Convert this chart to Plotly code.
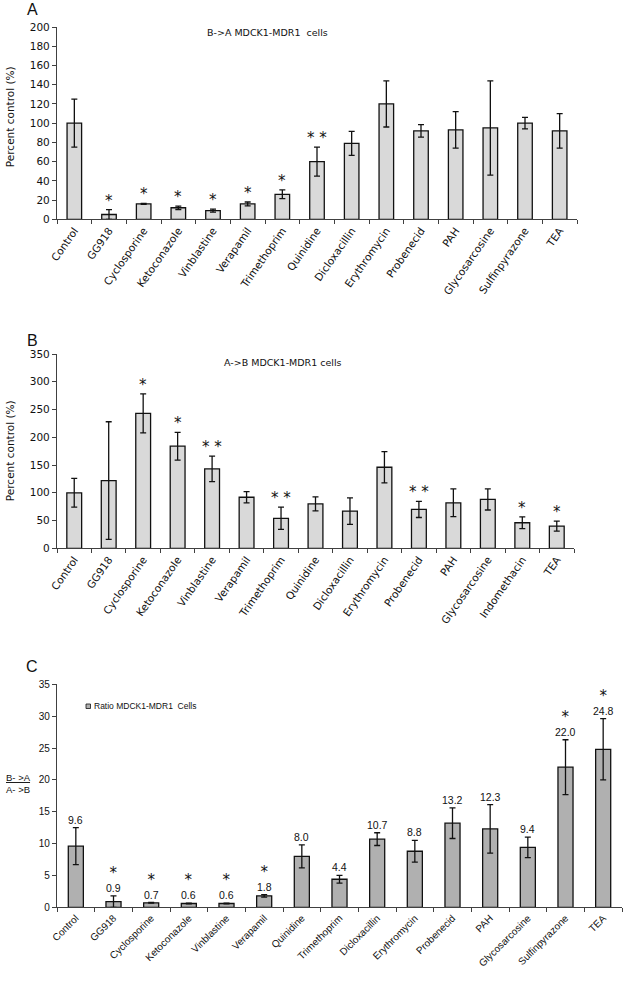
import plotly.graph_objects as go

# ---------------- data ----------------
cats_A = ["Control", "GG918", "Cyclosporine", "Ketoconazole", "Vinblastine", "Verapamil",
          "Trimethoprim", "Quinidine", "Dicloxacillin", "Erythromycin", "Probenecid", "PAH",
          "Glycosarcosine", "Sulfinpyrazone", "TEA"]
vals_A = [100, 5, 16, 12, 9, 16, 26, 60, 79, 120, 92, 93, 95, 100, 92]
err_A = [25, 5, 0.5, 1.8, 1.5, 2, 4.5, 15, 12.5, 24, 6.5, 19, 49, 6, 18]
sig_A = ["", "*", "*", "*", "*", "*", "*", "* *", "", "", "", "", "", "", ""]

cats_B = ["Control", "GG918", "Cyclosporine", "Ketoconazole", "Vinblastine", "Verapamil",
          "Trimethoprim", "Quinidine", "Dicloxacillin", "Erythromycin", "Probenecid", "PAH",
          "Glycosarcosine", "Indomethacin", "TEA"]
vals_B = [100, 122, 243, 184, 143, 92, 54, 80, 67, 146, 70, 82, 88, 46, 40]
err_B = [26, 106, 35, 25, 23, 10, 20, 12.5, 24, 28, 14.5, 25, 19, 10.5, 9]
sig_B = ["", "", "*", "*", "* *", "", "* *", "", "", "", "* *", "", "", "*", "*"]

cats_C = ["Control", "GG918", "Cyclosporine", "Ketoconazole", "Vinblastine", "Verapamil",
          "Quinidine", "Trimethoprim", "Dicloxacillin", "Erythromycin", "Probenecid", "PAH",
          "Glycosarcosine", "Sulfinpyrazone", "TEA"]
vals_C = [9.6, 0.9, 0.7, 0.6, 0.6, 1.8, 8.0, 4.4, 10.7, 8.8, 13.2, 12.3, 9.4, 22.0, 24.8]
err_C = [2.9, 0.9, 0.05, 0.05, 0.05, 0.2, 1.8, 0.6, 1.0, 1.7, 2.4, 3.8, 1.6, 4.3, 4.8]
sig_C = ["", "*", "*", "*", "*", "*", "", "", "", "", "", "", "", "*", "*"]

titles = ["B->A MDCK1-MDR1  cells", "A->B MDCK1-MDR1 cells", "Ratio MDCK1-MDR1  Cells"]
y_label = "Percent control (%)"

# ---------------- layout helpers ----------------
W, H = 625, 981
def px(x):
    return x / W
def py(y):
    return 1 - y / H

AX = "#404040"
VER = "DejaVu Sans, Verdana, sans-serif"
ARI = "Liberation Sans, Arial, sans-serif"

fig = go.Figure()

def add_bars(cats, vals, errs, xa, ya, color, width):
    fig.add_trace(go.Bar(
        x=cats, y=vals, xaxis=xa, yaxis=ya, width=width,
        marker=dict(color=color, line=dict(color="#111111", width=1.3)),
        error_y=dict(type="data", array=errs, visible=True, color="#111111",
                     thickness=1.3, width=3),
        showlegend=False, hoverinfo="x+y",
    ))

add_bars(cats_A, vals_A, err_A, "x", "y", "#d9d9d9", 0.42)
add_bars(cats_B, vals_B, err_B, "x2", "y2", "#d9d9d9", 0.43)
add_bars(cats_C, vals_C, err_C, "x3", "y3", "#b0b0b0", 0.40)

def xaxis_cfg(x0, x1, angle, font):
    return dict(domain=[px(x0), px(x1)], type="category", range=[-0.5, 14.5],
                showline=True, linecolor=AX, linewidth=1.3, ticks="outside",
                tickson="boundaries", ticklen=4, tickcolor=AX, tickwidth=1.3,
                tickangle=angle, tickfont=font, showgrid=False, zeroline=False,
                fixedrange=True, automargin=False)

def yaxis_cfg(ytop, ybot, rng, dtick, font, anchor):
    return dict(domain=[py(ybot), py(ytop)], range=rng, dtick=dtick, showline=True,
                linecolor=AX, linewidth=1.3, ticks="outside", ticklen=4, tickcolor=AX,
                tickwidth=1.3, tickfont=font, showgrid=False, zeroline=False,
                anchor=anchor, fixedrange=True, automargin=False)

fontAB = dict(family=VER, size=10.5, color="#111111")
fontC = dict(family=ARI, size=10, color="#111111")

fig.update_layout(
    width=W, height=H, margin=dict(l=0, r=0, t=0, b=0, autoexpand=False),
    paper_bgcolor="white", plot_bgcolor="white",
    bargap=0.5,
    xaxis=xaxis_cfg(57, 577, -55, fontAB) | dict(anchor="y"),
    yaxis=yaxis_cfg(27, 219.3, [0, 200], 20, fontAB, "x"),
    xaxis2=xaxis_cfg(57, 574, -55, fontAB) | dict(anchor="y2"),
    yaxis2=yaxis_cfg(354, 548.3, [0, 350], 50, fontAB, "x2"),
    xaxis3=xaxis_cfg(57, 622, -45, fontC) | dict(anchor="y3"),
    yaxis3=yaxis_cfg(684.3, 907.3, [0, 35], 5, fontC, "x3"),
)

ann = []
# significance marks (panels A, B)
for cats, vals, errs, sigs, xr, yr in [
    (cats_A, vals_A, err_A, sig_A, "x", "y"),
    (cats_B, vals_B, err_B, sig_B, "x2", "y2"),
]:
    for c, v, e, s in zip(cats, vals, errs, sigs):
        if s:
            ann.append(dict(x=c, y=v + e, xref=xr, yref=yr, text=s, showarrow=False,
                            yanchor="bottom", yshift=-2,
                            font=dict(family=VER, size=15, color="#111111")))
# value labels (+ significance) for panel C
for c, v, e, s in zip(cats_C, vals_C, err_C, sig_C):
    txt = f"{v:.1f}"
    if s:
        txt = f"<span style='font-family:DejaVu Sans;font-size:15px'>{s}</span><br>{txt}"
    ann.append(dict(x=c, y=v + e, xref="x3", yref="y3", text=txt, showarrow=False,
                    yanchor="bottom", yshift=0, align="center",
                    font=dict(family=ARI, size=10.5, color="#111111")))

# panel letters
for letter, yy in [("A", 10), ("B", 340), ("C", 666)]:
    ann.append(dict(x=px(32), y=py(yy), xref="paper", yref="paper", text=letter,
                    showarrow=False, xanchor="center", yanchor="middle",
                    font=dict(family=ARI, size=16, color="#111111")))

# panel titles
ann.append(dict(x=px(205), y=py(33), xref="paper", yref="paper", text=titles[0],
                showarrow=False, xanchor="left", yanchor="middle",
                font=dict(family=VER, size=9.5, color="#111111")))
ann.append(dict(x=px(222), y=py(362), xref="paper", yref="paper", text=titles[1],
                showarrow=False, xanchor="left", yanchor="middle",
                font=dict(family=VER, size=9.5, color="#111111")))
ann.append(dict(x=px(92), y=py(706), xref="paper", yref="paper", text=titles[2],
                showarrow=False, xanchor="left", yanchor="middle",
                font=dict(family=ARI, size=8.5, color="#111111")))

# y-axis titles
for yc in [(27 + 219.3) / 2 - 6, (354 + 548.3) / 2]:
    ann.append(dict(x=px(10), y=py(yc), xref="paper", yref="paper", text=y_label,
                    showarrow=False, textangle=-90, xanchor="center", yanchor="middle",
                    font=dict(family=VER, size=10.5, color="#111111")))
ann.append(dict(x=px(18), y=py(783), xref="paper", yref="paper",
                text="<u>B- >A</u><br>A- >B", showarrow=False, xanchor="center",
                yanchor="middle", align="center",
                font=dict(family=ARI, size=9.5, color="#111111")))

fig.update_layout(annotations=ann)

# small legend swatch for panel C
fig.add_shape(type="rect", xref="paper", yref="paper",
              x0=px(86), x1=px(90.5), y0=py(708.5), y1=py(704),
              fillcolor="#b0b0b0", line=dict(color="#111111", width=0.8))

fig.write_html("out.html", config={"displayModeBar": False},
               post_script="document.body.style.margin='0';document.body.style.overflow='hidden';")
